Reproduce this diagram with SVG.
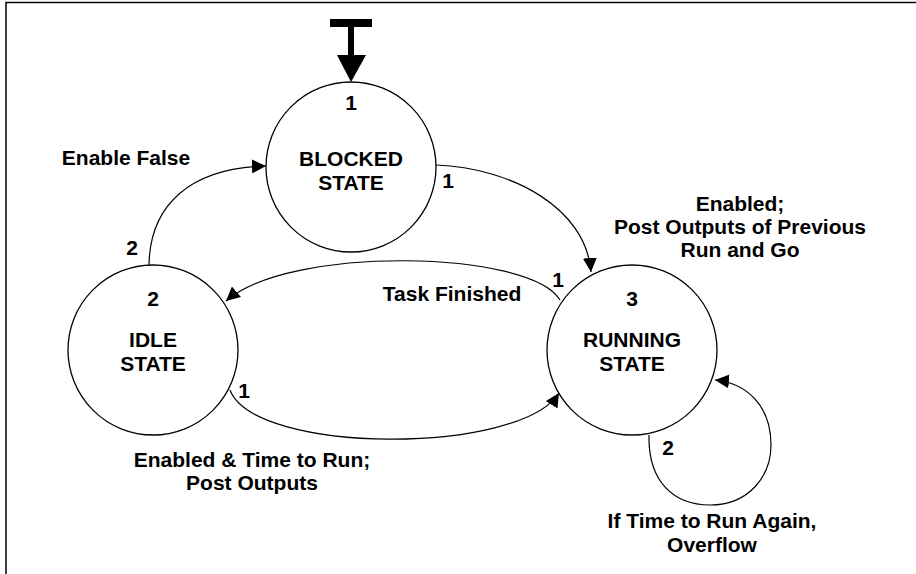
<svg xmlns="http://www.w3.org/2000/svg" width="916" height="574" viewBox="0 0 916 574">
  <style>
    .state { fill: #fff; stroke: #000; stroke-width: 1.3; }
    .edge { fill: none; stroke: #000; stroke-width: 1.2; }
    text { font-family: "Liberation Sans", Arial, Helvetica, sans-serif; font-weight: bold; font-size: 21px; fill: #000; text-anchor: middle; }
  </style>
  <defs>
    <marker id="head" viewBox="0 0 14 14" refX="14" refY="7" markerWidth="14" markerHeight="14" markerUnits="userSpaceOnUse" orient="auto">
      <path d="M0,0 L14,7 L0,14 Z" fill="#000"/>
    </marker>
  </defs>
  <rect width="916" height="574" fill="#fff"/>
  <!-- frame: top and left rules -->
  <path d="M6,574 V2.5 H916" fill="none" stroke="#000" stroke-width="1.5"/>

  <!-- initial transition into BLOCKED -->
  <g id="start">
    <rect x="330" y="19" width="42" height="8" fill="#000"/>
    <rect x="348" y="27" width="6" height="29" fill="#000"/>
    <path d="M337,55 L366,55 L351,82 Z" fill="#000"/>
  </g>

  <g id="connectors">
    <!-- BLOCKED -> RUNNING -->
    <path class="edge" d="M436,165 C512,168 586,208 591,272" marker-end="url(#head)"/>
    <!-- IDLE -> BLOCKED -->
    <path class="edge" d="M149,265 C150,205 190,168 266,166" marker-end="url(#head)"/>
    <!-- RUNNING -> IDLE -->
    <path class="edge" d="M560,300 C530,250 290,245 226,301" marker-end="url(#head)"/>
    <!-- IDLE -> RUNNING -->
    <path class="edge" d="M230,390 C255,455 520,455 559,393" marker-end="url(#head)"/>
    <!-- RUNNING self loop -->
    <path class="edge" d="M649,435 C648,482 674,505 710,505 C750,505 771,475 771,445 C771,405 746,383 715,380" marker-end="url(#head)"/>
  </g>

  <g id="blocked">
    <circle class="state" cx="351" cy="167" r="85"/>
    <text x="351" y="110">1</text>
    <text x="351" y="166">BLOCKED</text>
    <text x="351" y="190">STATE</text>
  </g>
  <g id="idle">
    <circle class="state" cx="153" cy="350" r="85"/>
    <text x="153" y="306">2</text>
    <text x="153" y="347">IDLE</text>
    <text x="153" y="371">STATE</text>
  </g>
  <g id="running">
    <circle class="state" cx="632" cy="350" r="85"/>
    <text x="632" y="306">3</text>
    <text x="632" y="347">RUNNING</text>
    <text x="632" y="371">STATE</text>
  </g>

  <g id="labels">
    <text x="126" y="165">Enable False</text>
    <text x="132" y="255">2</text>
    <text x="448" y="188">1</text>
    <text x="740" y="211">Enabled;</text>
    <text x="740" y="234">Post Outputs of Previous</text>
    <text x="740" y="257">Run and Go</text>
    <text x="558" y="287">1</text>
    <text x="452" y="301">Task Finished</text>
    <text x="244" y="398">1</text>
    <text x="252" y="467">Enabled &amp; Time to Run;</text>
    <text x="252" y="490">Post Outputs</text>
    <text x="668" y="455">2</text>
    <text x="712" y="528">If Time to Run Again,</text>
    <text x="712" y="552">Overflow</text>
  </g>
</svg>
